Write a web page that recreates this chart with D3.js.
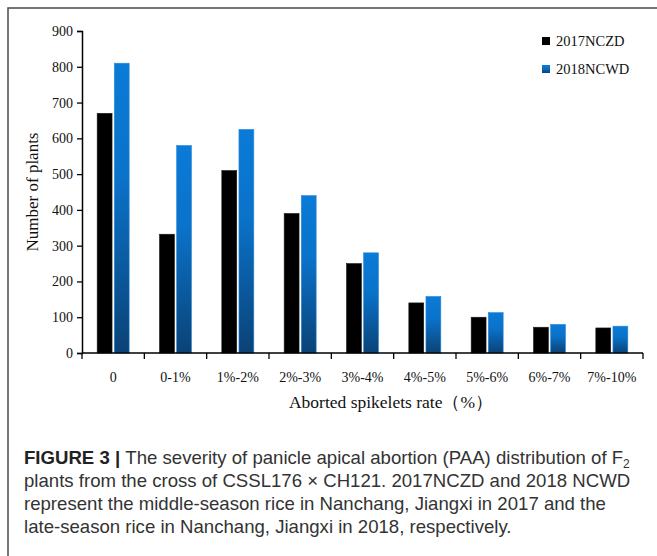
<!DOCTYPE html>
<html>
<head>
<meta charset="utf-8">
<script src="https://cdn.jsdelivr.net/npm/d3@7"></script>
<style>
  html, body { margin: 0; padding: 0; background: #fff; }
  svg { display: block; }
</style>
</head>
<body>
<svg id="fig" width="657" height="556"></svg>
<script>
// Aborted spikelets rate classes and plant counts per environment
const categories = ["0", "0-1%", "1%-2%", "2%-3%", "3%-4%", "4%-5%", "5%-6%", "6%-7%", "7%-10%"];
const seriesNames = ["2017NCZD", "2018NCWD"];
const ncz2017 = [670, 332, 510, 390, 250, 140, 100, 72, 70];
const ncw2018 = [810, 580, 625, 440, 280, 158, 113, 80, 75];
const yTicks = [0, 100, 200, 300, 400, 500, 600, 700, 800, 900];

const serif = "'Liberation Serif', 'Times New Roman', serif";
const sans = "'Liberation Sans', Arial, sans-serif";

const svg = d3.select("#fig");

// Gradient fill for the 2018 bars
const defs = svg.append("defs");
const grad = defs.append("linearGradient")
  .attr("id", "blueGrad").attr("x1", 0).attr("y1", 0).attr("x2", 0).attr("y2", 1);
grad.append("stop").attr("offset", "0%").attr("stop-color", "#0a7bd8");
grad.append("stop").attr("offset", "40%").attr("stop-color", "#0a72c9");
grad.append("stop").attr("offset", "100%").attr("stop-color", "#0b4276");

// Figure frame
svg.append("rect")
  .attr("x", 8).attr("y", 8).attr("width", 680).attr("height", 580)
  .attr("fill", "none").attr("stroke", "#4a4a4a").attr("stroke-width", 1.5);

const x = d3.scaleBand().domain(categories).range([82, 643]).padding(0);
const xs = d3.scaleBand().domain(seriesNames).range([-16, 16]).paddingInner(0.13);
const y = d3.scaleLinear().domain([0, 900]).range([353, 31]);

const rows = categories.map((c, i) => ({ cat: c, vals: [ncz2017[i], ncw2018[i]] }));
const fills = ["#000000", "url(#blueGrad)"];
const strokes = ["#1a1a1a", "#2e8ad8"];

const groups = svg.append("g").selectAll("g").data(rows).join("g")
  .attr("transform", d => `translate(${x(d.cat) + x.bandwidth() / 2},0)`);
groups.selectAll("rect")
  .data(d => d.vals.map((v, k) => ({ name: seriesNames[k], v, k })))
  .join("rect")
  .attr("x", d => xs(d.name))
  .attr("width", xs.bandwidth())
  .attr("y", d => y(d.v))
  .attr("height", d => y(0) - y(d.v))
  .attr("fill", d => fills[d.k])
  .attr("stroke", d => strokes[d.k])
  .attr("stroke-width", 0.6);

// Y axis
const yAxis = svg.append("g").attr("transform", "translate(82,0)")
  .call(d3.axisLeft(y).tickValues(yTicks).tickSize(5).tickPadding(4));
yAxis.select(".domain").attr("stroke", "#000").attr("stroke-width", 1.5);
yAxis.selectAll(".tick line").attr("stroke", "#000").attr("stroke-width", 1.3);
yAxis.selectAll("text").attr("font-family", serif).attr("font-size", 14).attr("fill", "#111");

// X axis: labels at band centres, ticks at band boundaries
const xAxis = svg.append("g").attr("transform", "translate(0,353)")
  .call(d3.axisBottom(x).tickSize(0).tickPadding(19));
xAxis.select(".domain").remove();
xAxis.selectAll("text").attr("font-family", serif).attr("font-size", 14).attr("fill", "#111");
svg.append("line")
  .attr("x1", x.range()[0]).attr("x2", x.range()[1])
  .attr("y1", 353).attr("y2", 353)
  .attr("stroke", "#000").attr("stroke-width", 1.5);
const bounds = categories.map(c => x(c)).concat([x.range()[1]]);
svg.append("g").selectAll("line").data(bounds).join("line")
  .attr("x1", d => d).attr("x2", d => d)
  .attr("y1", 353).attr("y2", 359)
  .attr("stroke", "#000").attr("stroke-width", 1.3);

// Axis titles
svg.append("text")
  .attr("transform", "translate(38,192) rotate(-90)")
  .attr("text-anchor", "middle")
  .attr("font-family", serif).attr("font-size", 17).attr("fill", "#111")
  .text("Number of plants");
svg.append("text")
  .attr("x", 391).attr("y", 408)
  .attr("text-anchor", "middle")
  .attr("font-family", serif).attr("font-size", 17.5).attr("fill", "#111")
  .text("Aborted spikelets rate（%）");

// Legend
const legendFills = ["#000000", "url(#blueGrad)"];
const legend = svg.append("g").selectAll("g").data(seriesNames).join("g")
  .attr("transform", (d, i) => `translate(542,${37 + i * 28})`);
legend.append("rect")
  .attr("width", 8).attr("height", 8)
  .attr("fill", (d, i) => legendFills[i]);
legend.append("text")
  .attr("x", 14).attr("y", 9)
  .attr("font-family", serif).attr("font-size", 14.5).attr("fill", "#111")
  .text(d => d);

// Caption
const cap = svg.append("g").attr("font-family", sans).attr("font-size", 18.6).attr("fill", "#333");
const l1 = cap.append("text").attr("x", 24).attr("y", 464);
l1.append("tspan").attr("font-weight", "bold").attr("fill", "#222").text("FIGURE 3 | ");
l1.append("tspan").text("The severity of panicle apical abortion (PAA) distribution of F");
l1.append("tspan").attr("font-size", 12).attr("dy", 4).text("2");
cap.append("text").attr("x", 24).attr("y", 487)
  .text("plants from the cross of CSSL176 × CH121. 2017NCZD and 2018 NCWD");
cap.append("text").attr("x", 24).attr("y", 510)
  .text("represent the middle-season rice in Nanchang, Jiangxi in 2017 and the");
cap.append("text").attr("x", 24).attr("y", 533)
  .text("late-season rice in Nanchang, Jiangxi in 2018, respectively.");
</script>
</body>
</html>
